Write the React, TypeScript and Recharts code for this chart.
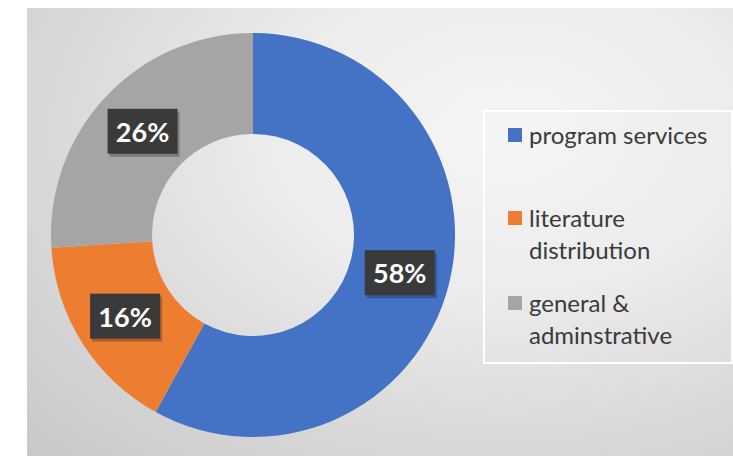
import React from 'react';
import { PieChart, Pie, Cell, Legend } from 'recharts';

// values as printed on the slices (percent)
const CATEGORIES = ['program services', 'literature distribution', 'general & adminstrative'];
const LEGEND_LINES = [['program services'], ['literature', 'distribution'], ['general &', 'adminstrative']];
const VALUES = [58, 16, 26];
const COLORS = ['#4472C4', '#ED7D31', '#A5A5A5'];

const data = CATEGORIES.map((name, i) => ({ name, value: VALUES[i] }));

const FONT = 'Lato, "Open Sans", sans-serif';

const renderLabel = (props: any) => {
    const { cx, cy, midAngle, innerRadius, outerRadius, percent } = props;
    const r = innerRadius + (outerRadius - innerRadius) * 0.5;
    const x = cx + r * Math.cos(-midAngle * Math.PI / 180);
    const y = cy + r * Math.sin(-midAngle * Math.PI / 180);
    const w = 70;
    const h = 45;
    return (
        <g>
            <rect x={x - w / 2 + 2} y={y - h / 2 + 3} width={w} height={h} fill="rgba(0,0,0,0.25)" />
            <rect x={x - w / 2} y={y - h / 2} width={w} height={h} fill="#3a3a3a" />
            <text x={x} y={y} fill="#ffffff" textAnchor="middle" dominantBaseline="central"
                style={{ fontFamily: FONT, fontWeight: 700, fontSize: 27 }}>
                {`${Math.round(percent * 100)}%`}
            </text>
        </g>
    );
};

const renderLegend = () => {
    const tops = [7, 90, 175];
    return (
        <div style={{ position: 'relative', width: 246, height: 250, border: '2px solid #ffffff', fontFamily: FONT }}>
            {LEGEND_LINES.map((lines, i) => (
                <div key={i} style={{ position: 'absolute', left: 0, top: tops[i] }}>
                    <div style={{ position: 'absolute', left: 23, top: 9, width: 14, height: 14, background: COLORS[i] }} />
                    {lines.map((line, j) => (
                        <div key={j} style={{ position: 'absolute', left: 44, top: j * 32, lineHeight: '32px', fontSize: 24, color: '#3a3a3a', whiteSpace: 'nowrap' }}>
                            {line}
                        </div>
                    ))}
                </div>
            ))}
        </div>
    );
};

export default function App() {
    return (
        <div style={{ position: 'absolute', left: 0, top: 0, width: 733, height: 456, background: '#ffffff', overflow: 'hidden' }}>
            <div style={{
                position: 'absolute', left: 27, top: 8, width: 706, height: 448,
                background: 'radial-gradient(ellipse farthest-corner at 68% 28%, #f5f5f5 0%, #ececec 35%, #dadada 65%, #c8c8c8 100%)'
            }} />
            <div style={{ position: 'absolute', left: 0, top: 0 }}>
                <PieChart width={733} height={456} margin={{ top: 0, right: 0, bottom: 0, left: 0 }}>
                    <Pie
                        data={data}
                        dataKey="value"
                        cx={253}
                        cy={235}
                        innerRadius={101}
                        outerRadius={202}
                        startAngle={90}
                        endAngle={-270}
                        stroke="none"
                        labelLine={false}
                        label={renderLabel}
                        isAnimationActive={false}
                    >
                        {data.map((entry, index) => (
                            <Cell key={`cell-${index}`} fill={COLORS[index]} />
                        ))}
                    </Pie>
                    <Legend content={renderLegend} wrapperStyle={{ left: 483, top: 110, width: 250, height: 254, right: 'auto', bottom: 'auto' }} />
                </PieChart>
            </div>
        </div>
    );
}
